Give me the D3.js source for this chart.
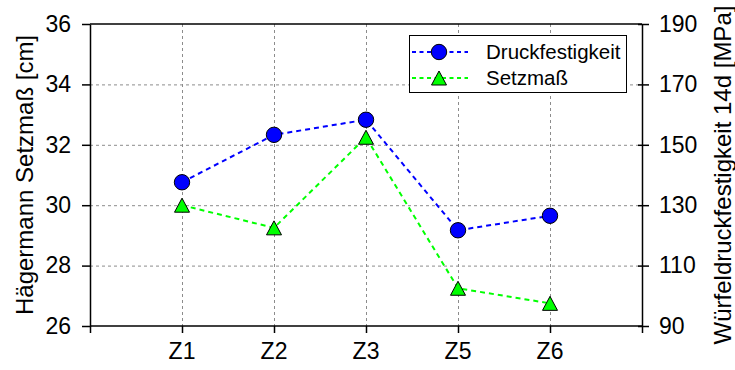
<!DOCTYPE html>
<html>
<head>
<meta charset="utf-8">
<script src="https://cdn.jsdelivr.net/npm/d3@7"></script>
<style>
  html, body { margin: 0; padding: 0; background: #fff; }
  svg { display: block; font-family: "Liberation Sans", Arial, Helvetica, sans-serif; }
</style>
</head>
<body>
<svg id="chart" width="735" height="370"></svg>
<script>
// Mix designs on the x axis
const categories = ["Z1", "Z2", "Z3", "Z5", "Z6"];
// Cube compressive strength after 14 days [MPa] (right axis)
const druckfestigkeit = [137.6, 153.3, 158.3, 121.7, 126.5];
// Hägermann slump flow [cm] (left axis)
const setzmass = [30.0, 29.25, 32.25, 27.25, 26.75];
// Axis ticks
const leftTicks = [26, 28, 30, 32, 34, 36];
const rightTicks = [90, 110, 130, 150, 170, 190];

const svg = d3.select("#chart");
const m = { left: 90, right: 642, top: 24, bottom: 326 };

const x = d3.scalePoint().domain(categories).range([m.left, m.right]).padding(1);
const yL = d3.scaleLinear().domain([26, 36]).range([m.bottom, m.top]);
const yR = d3.scaleLinear().domain([90, 190]).range([m.bottom, m.top]);

// Grid
const grid = svg.append("g").attr("stroke", "#8c8c8c").attr("stroke-width", 1)
  .attr("stroke-dasharray", "3,3").attr("fill", "none");
grid.selectAll("line.h").data(leftTicks.slice(1, -1)).join("line")
  .attr("x1", m.left).attr("x2", m.right)
  .attr("y1", d => yL(d) + 0.5).attr("y2", d => yL(d) + 0.5);
grid.selectAll("line.v").data(categories).join("line")
  .attr("y1", m.top).attr("y2", m.bottom)
  .attr("x1", d => x(d) + 0.5).attr("x2", d => x(d) + 0.5);

// Axes
const fs = 23;
const axL = svg.append("g").attr("transform", `translate(${m.left},0)`)
  .call(d3.axisLeft(yL).tickValues(leftTicks).tickSize(8).tickPadding(11).tickSizeOuter(0));
const axR = svg.append("g").attr("transform", `translate(${m.right},0)`)
  .call(d3.axisRight(yR).tickValues(rightTicks).tickSize(7).tickPadding(10).tickSizeOuter(0));
const xTickVals = [m.left, ...categories.map(c => x(c)), m.right];
const axB = svg.append("g").attr("transform", `translate(0,${m.bottom})`)
  .call(d3.axisBottom(d3.scaleIdentity().domain([0, 735])).tickValues(xTickVals)
    .tickSize(7).tickFormat(() => "").tickSizeOuter(0));
axB.select(".domain").remove();
// Category labels under the ticks
svg.append("g").selectAll("text").data(categories).join("text")
  .attr("x", d => x(d)).attr("y", 359)
  .attr("text-anchor", "middle").attr("font-size", fs).attr("fill", "#000")
  .text(d => d);

[axL, axR, axB].forEach(a => {
  a.selectAll("text").attr("font-size", fs).attr("fill", "#000")
    .attr("font-family", "'Liberation Sans', Arial, sans-serif");
  a.selectAll("line").attr("stroke", "#000").attr("stroke-width", 1.5);
  a.selectAll(".domain").attr("stroke", "#000").attr("stroke-width", 1.5);
});
// Right ticks also reach a little inside the frame
axR.selectAll(".tick line").attr("x1", -4);

// Frame: top and bottom border
svg.append("line").attr("x1", m.left).attr("x2", m.right).attr("y1", m.top).attr("y2", m.top)
  .attr("stroke", "#000").attr("stroke-width", 1.5);
svg.append("line").attr("x1", m.left).attr("x2", m.right).attr("y1", m.bottom).attr("y2", m.bottom)
  .attr("stroke", "#000").attr("stroke-width", 1.5);

// Axis titles
svg.append("text")
  .attr("transform", `translate(33,${(m.top + m.bottom) / 2}) rotate(-90)`)
  .attr("text-anchor", "middle").attr("font-size", 24).attr("fill", "#000")
  .text("Hägermann Setzmaß [cm]");
svg.append("text")
  .attr("transform", `translate(731,${(m.top + m.bottom) / 2}) rotate(-90)`)
  .attr("text-anchor", "middle").attr("font-size", 24).attr("fill", "#000")
  .text("Würfeldruckfestigkeit 14d [MPa]");

// Marker shapes
const triPath = "M0,-7L7.5,7L-7.5,7Z";
const blue = "#0000ff", green = "#00ff00";

// Series lines
const lineDr = d3.line().x((d, i) => x(categories[i])).y(d => yR(d));
const lineSm = d3.line().x((d, i) => x(categories[i])).y(d => yL(d));
svg.append("path").datum(setzmass).attr("d", lineSm)
  .attr("fill", "none").attr("stroke", green).attr("stroke-width", 2).attr("stroke-dasharray", "5,4");
svg.append("path").datum(druckfestigkeit).attr("d", lineDr)
  .attr("fill", "none").attr("stroke", blue).attr("stroke-width", 2).attr("stroke-dasharray", "5,4");

// Markers
svg.append("g").selectAll("path").data(setzmass).join("path")
  .attr("transform", (d, i) => `translate(${x(categories[i])},${yL(d)})`)
  .attr("d", triPath).attr("fill", green).attr("stroke", "#000").attr("stroke-width", 1);
svg.append("g").selectAll("circle").data(druckfestigkeit).join("circle")
  .attr("cx", (d, i) => x(categories[i])).attr("cy", d => yR(d)).attr("r", 7.7)
  .attr("fill", blue).attr("stroke", "#000").attr("stroke-width", 1);

// Legend
const lg = svg.append("g");
lg.append("rect").attr("x", 409.5).attr("y", 35.5).attr("width", 217).attr("height", 57)
  .attr("fill", "#fff").attr("stroke", "#000").attr("stroke-width", 1);
const entries = [
  { name: "Druckfestigkeit", color: blue, shape: "circle", y: 52 },
  { name: "Setzmaß", color: green, shape: "tri", y: 78 }
];
entries.forEach(e => {
  lg.append("line").attr("x1", 412).attr("x2", 468).attr("y1", e.y).attr("y2", e.y)
    .attr("stroke", e.color).attr("stroke-width", 2).attr("stroke-dasharray", "4,3.5");
  if (e.shape === "circle") {
    lg.append("circle").attr("cx", 439).attr("cy", e.y).attr("r", 7.7)
      .attr("fill", e.color).attr("stroke", "#000");
  } else {
    lg.append("path").attr("transform", `translate(439,${e.y})`).attr("d", triPath)
      .attr("fill", e.color).attr("stroke", "#000");
  }
  lg.append("text").attr("x", 486).attr("y", e.y + 7).attr("font-size", 20.5).attr("fill", "#000")
    .text(e.name);
});
</script>
</body>
</html>
